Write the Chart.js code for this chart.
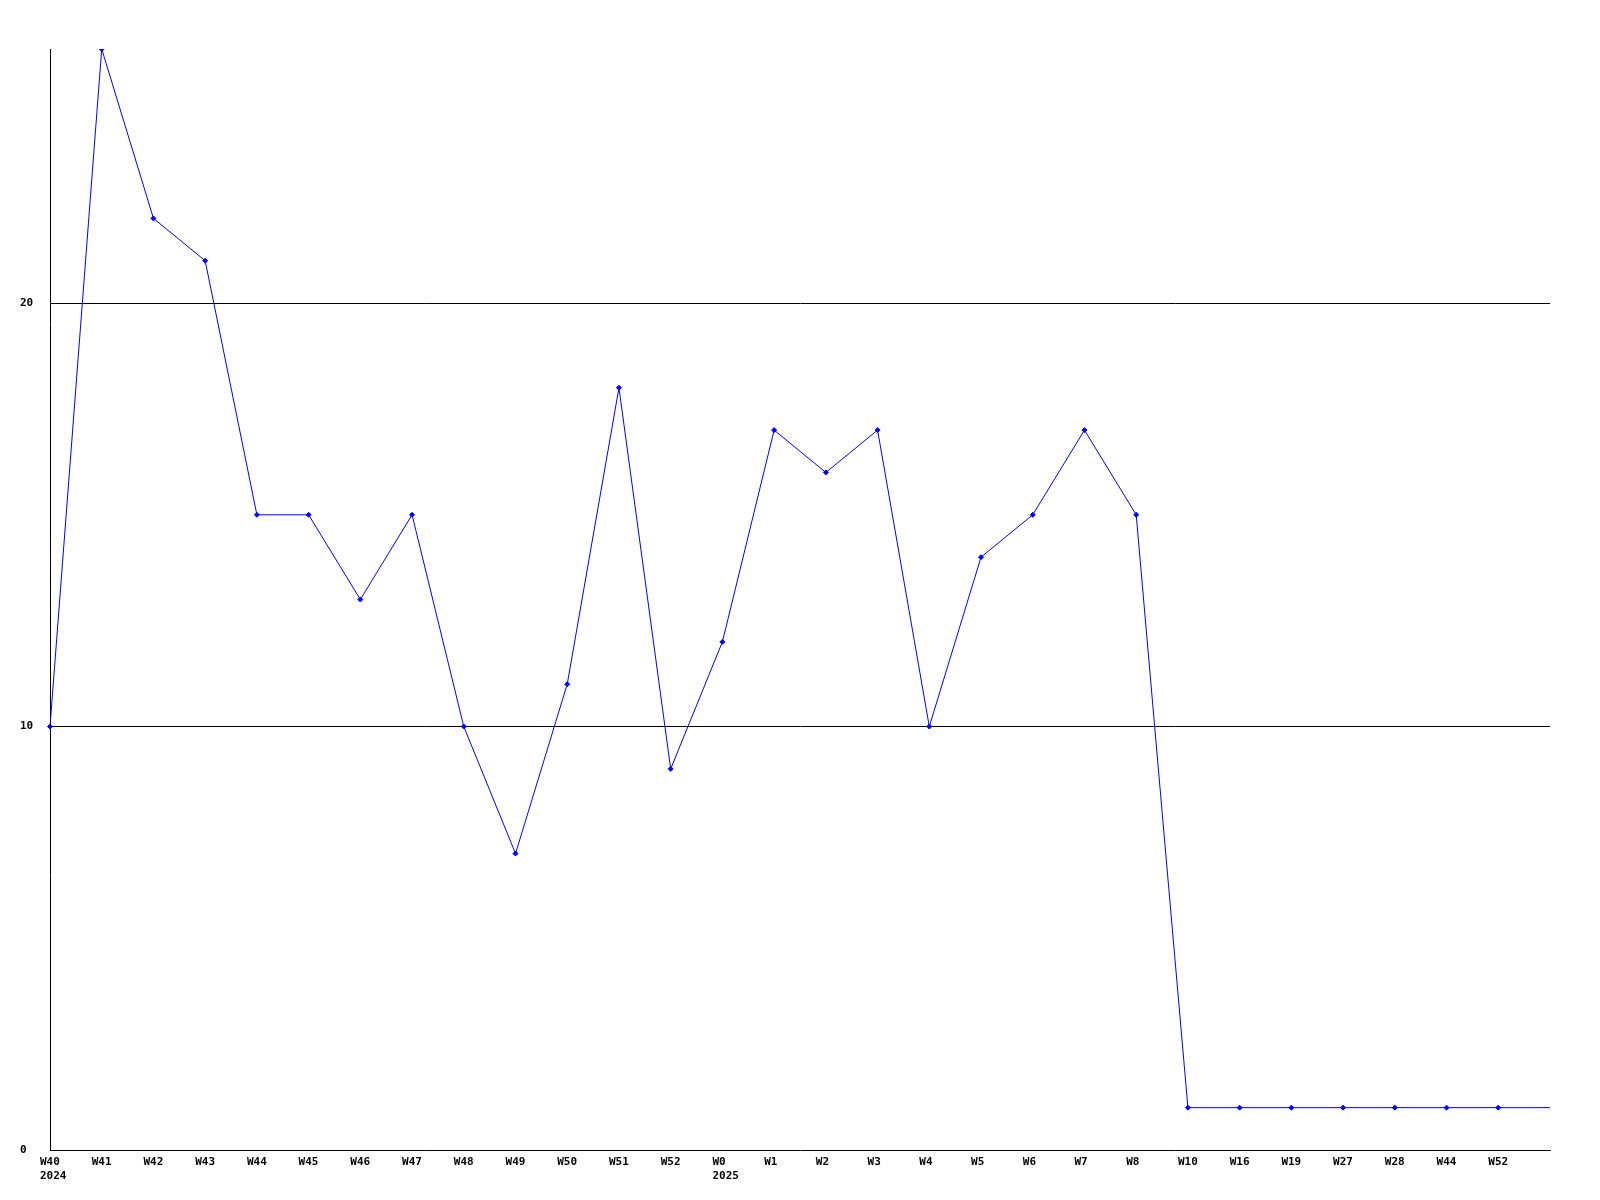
<!DOCTYPE html>
<html lang="en">
<head>
  <meta charset="UTF-8">
  <title>Weekly count</title>
  <script src="https://cdn.jsdelivr.net/npm/chart.js"></script>
  <style>
    body { margin: 0; background: #fff; }
    .chart-container { width: 1600px; height: 1200px; }
  </style>
</head>
<body>
  <div class="chart-container">
    <canvas id="chartCanvas"></canvas>
  </div>
  <script>
    // week labels (second line = year where it starts)
    const weeks = [
      ['W40', '2024'], 'W41', 'W42', 'W43', 'W44', 'W45', 'W46', 'W47', 'W48', 'W49', 'W50', 'W51', 'W52',
      ['W0', '2025'], 'W1', 'W2', 'W3', 'W4', 'W5', 'W6', 'W7', 'W8',
      'W10', 'W16', 'W19', 'W27', 'W28', 'W44', 'W52', ''
    ];
    const counts = [
      10, 26, 22, 21, 15, 15, 13, 15, 10, 7, 11, 18, 9,
      12, 17, 16, 17, 10, 14, 15, 17, 15,
      1, 1, 1, 1, 1, 1, 1, 1
    ];
    const yTicks = [0, 10, 20];

    const tickFont = { family: 'DejaVu Sans Mono', size: 11, weight: 'bold' };

    const ctx = document.getElementById('chartCanvas').getContext('2d');
    const chart = new Chart(ctx, {
      type: 'line',
      data: {
        labels: weeks,
        datasets: [{
          data: counts,
          borderColor: '#0000ff',
          backgroundColor: '#0000ff',
          borderWidth: 1,
          pointStyle: 'rectRot',
          pointRadius: counts.map((v, i) => i === counts.length - 1 ? 0 : 2.5),
          pointBorderWidth: 1,
          tension: 0,
          fill: false
        }]
      },
      options: {
        responsive: true,
        maintainAspectRatio: false,
        animation: { duration: 0 },
        layout: { padding: { left: 20, top: 49, right: 50, bottom: 0 } },
        plugins: {
          legend: { display: false },
          tooltip: { enabled: false }
        },
        scales: {
          x: {
            type: 'category',
            offset: false,
            grid: { display: false, drawTicks: false },
            border: { display: true, color: '#000', width: 1 },
            ticks: {
              color: '#000',
              font: tickFont,
              maxRotation: 0,
              autoSkip: false,
              align: 'start',
              labelOffset: -10,
              padding: 6
            },
            afterFit: (scale) => { scale.height = 50; }
          },
          y: {
            min: 0,
            max: 26,
            grid: {
              color: (c) => c.tick && c.tick.value === 0 ? 'rgba(0,0,0,0)' : '#000',
              lineWidth: 1,
              drawTicks: false
            },
            border: { display: true, color: '#000', width: 1 },
            ticks: {
              color: '#000',
              font: tickFont,
              crossAlign: 'far',
              stepSize: 10
            },
            afterBuildTicks: (scale) => {
              scale.ticks = yTicks.map(v => ({ value: v }));
            },
            afterFit: (scale) => { scale.width = 30; }
          }
        }
      }
    });
  </script>
</body>
</html>
